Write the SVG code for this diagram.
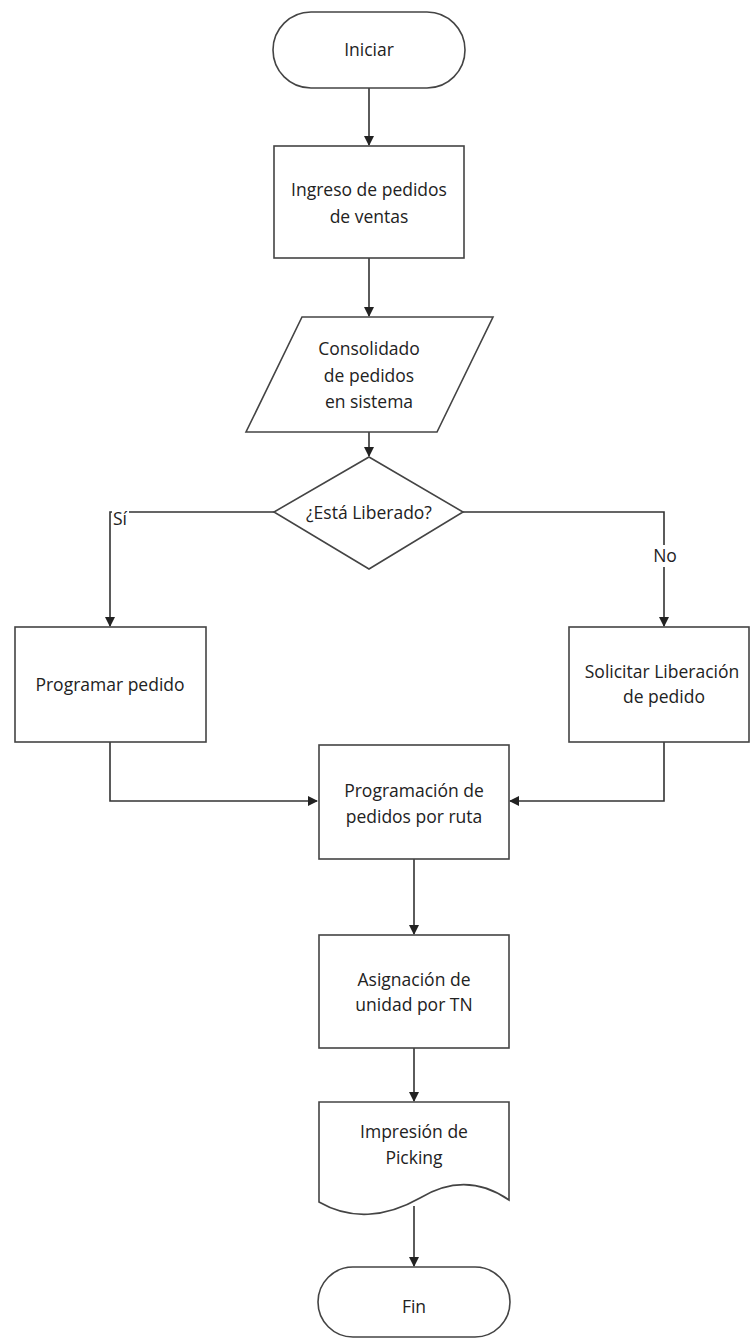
<svg xmlns="http://www.w3.org/2000/svg" width="750" height="1339" viewBox="0 0 750 1339">
<defs>
<marker id="arr" markerWidth="10" markerHeight="10" refX="9" refY="5" orient="auto" markerUnits="userSpaceOnUse">
<path d="M0,0 L10,5 L0,10 Z" fill="#222"/>
</marker>
<style>
.shape{fill:#fff;stroke:#444;stroke-width:1.6}
.edge{fill:none;stroke:#333;stroke-width:1.6}
text{font-family:"Open Sans","Liberation Sans",sans-serif;font-size:17.5px;fill:#222;text-anchor:middle}
.bg{fill:#fff}
</style>
</defs>
<rect width="750" height="1339" fill="#fff"/>
<g id="connectors">
<path class="edge" d="M369,88 V145" marker-end="url(#arr)"/>
<path class="edge" d="M369,258 V316" marker-end="url(#arr)"/>
<path class="edge" d="M369,432 V456" marker-end="url(#arr)"/>
<path class="edge" d="M274,512 H110 V626" marker-end="url(#arr)"/>
<path class="edge" d="M463,512 H664 V626" marker-end="url(#arr)"/>
<path class="edge" d="M110,742 V801 H317" marker-end="url(#arr)"/>
<path class="edge" d="M664,742 V801 H510" marker-end="url(#arr)"/>
<path class="edge" d="M414,859 V934" marker-end="url(#arr)"/>
<path class="edge" d="M414,1048 V1101" marker-end="url(#arr)"/>
<path class="edge" d="M414,1206 V1266" marker-end="url(#arr)"/>
<rect class="bg" x="112" y="510" width="17" height="18"/>
<text x="120" y="525">Sí</text>
<rect class="bg" x="650" y="545" width="29" height="22"/>
<text x="665" y="562">No</text>
</g>
<g id="n-iniciar">
<rect class="shape" x="273" y="12" width="192" height="76" rx="38" ry="38"/>
<text x="369" y="56">Iniciar</text>
</g>
<g id="n-ingreso">
<rect class="shape" x="274" y="146" width="190" height="112"/>
<text x="369" y="196">Ingreso de pedidos</text>
<text x="369" y="223">de ventas</text>
</g>
<g id="n-consolidado">
<polygon class="shape" points="302,317 493,317 437,432 246,432"/>
<text x="369" y="355">Consolidado</text>
<text x="369" y="382">de pedidos</text>
<text x="369" y="408">en sistema</text>
</g>
<g id="n-liberado">
<polygon class="shape" points="369,457 463,512 369,569 274,512"/>
<text x="369" y="519">¿Está Liberado?</text>
</g>
<g id="n-programar">
<rect class="shape" x="15" y="627" width="191" height="115"/>
<text x="110" y="691">Programar pedido</text>
</g>
<g id="n-solicitar">
<rect class="shape" x="569" y="627" width="180" height="115"/>
<text x="662" y="678">Solicitar Liberación</text>
<text x="664" y="703">de pedido</text>
</g>
<g id="n-programacion">
<rect class="shape" x="319" y="745" width="190" height="114"/>
<text x="414" y="797">Programación de</text>
<text x="414" y="823">pedidos por ruta</text>
</g>
<g id="n-asignacion">
<rect class="shape" x="319" y="935" width="190" height="113"/>
<text x="414" y="986">Asignación de</text>
<text x="414" y="1011">unidad por TN</text>
</g>
<g id="n-impresion">
<path class="shape" d="M319,1102 H509 V1200 C480,1180 450,1180 420,1198 C385,1218 350,1220 319,1202 Z"/>
<text x="414" y="1138">Impresión de</text>
<text x="414" y="1164">Picking</text>
</g>
<g id="n-fin">
<rect class="shape" x="318" y="1267" width="192" height="70" rx="35" ry="35"/>
<text x="414" y="1313">Fin</text>
</g>
</svg>
